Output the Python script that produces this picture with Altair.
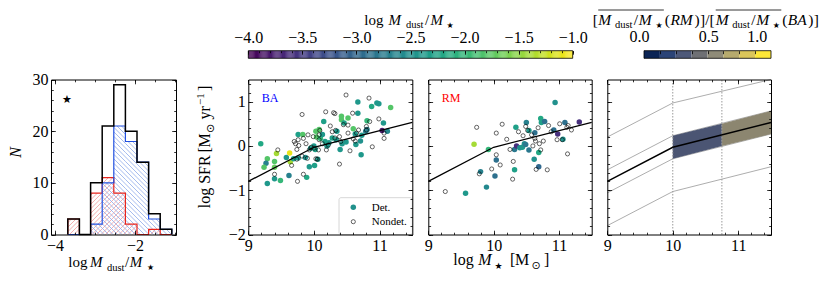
import altair as alt
import numpy as np
import pandas as pd

# ===================== data =====================
hist_edges = [-3.68, -3.39, -3.11, -2.82, -2.53, -2.24, -1.95, -1.66, -1.37, -1.08]
hist_all = [3, 0, 10, 21, 29, 20, 14, 4, 1]
hist_ba = [0, 0, 2, 10, 21, 18, 14, 3, 1]
hist_rm = [3, 0, 8, 11, 8, 2, 0, 1, 0]
star_x = [-3.7]
star_y = [26]

ba_det_x = [9.19, 9.29, 9.27, 9.24, 9.29, 9.40, 9.40, 9.40, 9.49, 9.43,
            9.58, 9.63, 9.64, 9.62, 9.69, 9.76, 9.83, 9.76, 9.89, 9.93,
            9.95, 10.03, 10.04, 10.02, 10.01, 10.08, 10.10, 10.13, 10.15, 10.20,
            10.23, 10.06, 9.87, 10.67, 10.88, 10.96, 10.99, 11.17, 10.42, 10.42,
            10.52, 10.46, 10.67, 10.81, 11.06, 10.35, 10.60, 10.63, 10.79, 10.81,
            11.04, 11.12, 10.73, 10.34, 10.43, 10.49, 10.64, 10.71, 10.40, 10.72,
            10.28, 10.17, 10.00]
ba_det_y = [0.05, -0.29, -0.39, -0.48, -0.85, -0.35, -0.48, -0.74, -0.78, -0.17,
            -0.26, -0.16, -0.36, -0.67, -0.29, 0.26, 0.26, -0.27, -0.71, -0.47,
            -0.05, 0.33, 0.20, -0.08, -0.44, 0.37, 0.17, 0.26, 0.55, 0.00,
            0.07, -0.30, -0.26, 0.99, 0.89, 0.97, 0.95, 0.87, 0.67, 0.59,
            0.63, 0.52, 0.74, 0.57, 0.52, 0.33, 0.39, 0.27, 0.33, 0.37,
            0.35, 0.33, 0.24, 0.14, 0.05, 0.09, 0.03, 0.11, -0.08, -0.20,
            0.18, 0.10, 0.00]
ba_det_c = [-2.2, -1.8, -2.7, -1.8, -2.4, -1.8, -1.7, -2.4, -2.0, -1.4,
            -2.4, -1.1, -1.4, -2.7, -2.3, -2.3, -1.8, -2.4, -2.2, -2.4,
            -2.4, -1.8, -1.8, -2.3, -2.3, -1.8, -2.0, -2.4, -2.3, -2.4,
            -2.4, -2.4, -2.5, -2.4, -2.2, -2.4, -2.4, -1.8, -1.8, -1.8,
            -1.8, -2.3, -2.4, -2.0, -2.4, -2.4, -1.8, -2.4, -2.7, -2.7,
            -3.8, -2.6, -2.4, -2.4, -2.4, -2.4, -2.4, -2.5, -2.4, -2.4,
            -2.3, -2.3, -2.4]

ba_non_x = [9.45, 9.40, 9.82, 9.74, 9.72, 9.76, 9.77, 9.82, 9.84, 9.75,
            9.91, 9.93, 9.90, 9.84, 9.99, 9.96, 10.03, 10.05, 10.07, 10.08,
            10.08, 10.09, 10.13, 10.18, 10.19, 10.25, 10.28, 10.30, 10.32, 10.33,
            10.32, 10.39, 10.39, 10.41, 10.49, 10.52, 10.52, 10.55, 10.59, 10.60,
            10.63, 10.65, 10.68, 10.80, 10.80, 10.84, 10.85, 10.89, 10.99, 11.07,
            11.07, 9.66, 9.88, 9.74, 10.00, 9.70, 10.22, 10.45]
ba_non_y = [-0.09, -0.64, 0.71, -0.08, 0.05, 0.14, 0.01, -0.23, -0.64, -0.80,
            0.25, -0.09, -0.28, 0.17, 0.21, -0.03, -0.29, -0.30, -0.09, 0.25,
            0.14, 0.35, 0.05, 0.77, -0.09, 0.45, 0.32, 0.75, 0.73, 0.35,
            0.18, -0.41, 0.21, 0.10, 1.15, 0.29, 0.47, -0.11, 0.74, 0.16,
            0.11, 0.29, 0.36, 0.44, 0.36, 1.08, 0.55, -0.02, 0.61, 0.29,
            0.17, -0.44, 0.05, -0.30, -0.05, 0.10, 0.02, 0.48]

rm_det_x = [9.57, 9.70, 9.80, 9.89, 9.92, 10.02, 10.04, 10.32, 10.32, 10.34,
            10.35, 10.40, 10.44, 10.47, 10.49, 10.50, 10.54, 10.54, 10.63, 10.62,
            10.69, 10.69, 10.72, 10.73, 10.78, 10.94, 10.92, 10.98, 11.06, 11.09,
            11.31]
rm_det_y = [-1.07, 0.04, -0.58, -0.93, -0.08, -0.68, -0.32, -0.54, -0.08, 0.42,
            0.00, -0.04, -0.03, 0.05, 0.03, 0.53, -0.09, 0.35, 0.30, -0.30,
            -0.15, -0.47, 0.62, 0.53, 0.55, 0.98, 0.36, 0.27, 0.15, 0.53,
            0.54]
rm_det_c = [-2.4, -1.4, -2.7, -2.6, -2.0, -2.9, -2.9, -2.3, -2.8, -2.3,
            -3.6, -2.5, -2.4, -2.5, -2.8, -2.7, -2.8, -2.4, -2.9, -2.5,
            -2.2, -3.0, -2.2, -2.3, -2.9, -2.5, -2.9, -3.6, -2.5, -2.9,
            -3.6]

rm_non_x = [9.26, 9.74, 9.78, 9.97, 10.04, 10.04, 10.10, 10.13, 10.20, 10.25,
            10.30, 10.29, 10.38, 10.45, 10.49, 10.58, 10.60, 10.63, 10.64, 10.65,
            10.68, 10.70, 10.72, 10.76, 10.82, 10.84, 10.88, 11.01, 11.05, 11.12,
            11.14, 11.13, 11.19, 10.52, 10.97]
rm_non_y = [-1.03, 0.42, -0.63, -0.52, 0.29, -0.20, -0.43, 0.49, 0.15, -0.08,
            -0.35, -0.75, 0.32, 0.23, 0.44, 0.25, 0.00, 0.17, 0.11, -0.53,
            0.41, 0.05, -0.09, 0.11, -0.54, 0.46, 0.32, 0.50, 0.14, 0.42,
            0.46, -0.18, 0.36, 0.35, 0.14]

fit_x = [9.0, 10.0, 11.5]
fit_y = [-0.80, -0.03, 0.53]
inner_hi = [-0.54, 0.23, 0.79]
inner_lo = [-1.06, -0.29, 0.27]
outer_hi = [0.20, 0.97, 1.53]
outer_lo = [-1.80, -1.03, -0.47]
band1_x = [10.0, 10.75]
band1_lo = [-0.29, 0.00]
band1_hi = [0.23, 0.50]
band2_x = [10.75, 11.5]
band2_lo = [0.00, 0.27]
band2_hi = [0.50, 0.79]
band_colors = ["#4b5573", "#8c8670"]
vlines_x = [10.0, 10.75]

cb1_ticks = [-4.0, -3.5, -3.0, -2.5, -2.0, -1.5, -1.0]
cb2_colors = ["#0b2455", "#2b4477", "#4d5878", "#6f7074", "#8f8b78",
              "#b6aa6d", "#dbc65a", "#fde737"]
cb2_ticks = [0.0, 0.5, 1.0]

# ===================== layout (view px, page = view + 8) =====================
W, H = 815, 268
PT, PB = 71.5, 226.5
SERIF = "Liberation Serif"
SYM = "DejaVu Sans"
LFS = 16
HX_DOM, HX_R = [-4.1, -0.975], [43.0, 168.0]
HY_DOM = [0, 30]
MX_DOM, MY_DOM = [9, 11.5], [-2, 1.5]
Y_R = [PB, PT]
P2_R, P3_R, P4_R = [240.3, 404.3], [420.3, 583.7], [599.3, 763.0]
CB_T, CB_B = 42.7, 50.3
CB1_R = [240.3, 564.7]
CB2_R = [636.0, 763.0]
CB2_LAB_R = [631.0, 700.3, 748.7]
TB = 25  # colourbar title baseline (page px)


def S(dom, rng, **kw):
    return alt.Scale(domain=list(dom), range=list(rng), nice=False, zero=False, **kw)


def axis_set(xdom, xr, ydom, yr, xmaj, xmin, ymaj, ymin, xlab=None, ylab=None,
             tmaj=4.3, tmin=2.3):
    L, R = xr
    B, T = yr
    base = {"bottom": -(H - B), "top": -T, "left": -L, "right": -(W - R)}
    df = pd.DataFrame({"x": [xdom[0]], "y": [ydom[0]]})

    def lay(xa, ya):
        return alt.Chart(df).mark_point(opacity=0).encode(
            x=alt.X("x:Q", scale=S(xdom, xr), axis=xa),
            y=alt.Y("y:Q", scale=S(ydom, yr), axis=ya))

    def frame_axis(orient, lab, pad):
        kw = dict(orient=orient, offset=base[orient], domain=True, ticks=False,
                  tickSize=0, grid=False, title=None, labels=bool(lab), zindex=1)
        if lab:
            kw.update(values=lab, format="d", labelPadding=pad, labelFont=SERIF,
                      labelFontSize=LFS, labelColor="black", labelFlush=False,
                      labelOverlap=False)
        return alt.Axis(**kw)

    def tick_axis(orient, vals, t):
        return alt.Axis(orient=orient, offset=base[orient] - t, domain=False,
                        ticks=True, tickSize=t, labels=False, values=vals,
                        grid=False, title=None, zindex=1)

    out = [lay(frame_axis("bottom", xlab, 2.5), frame_axis("left", ylab, 3)),
           lay(frame_axis("top", None, 0), frame_axis("right", None, 0))]
    for vx, vy, t in [(xmaj, ymaj, tmaj), (xmin, ymin, tmin)]:
        out.append(lay(tick_axis("bottom", vx, t), tick_axis("left", vy, t)))
        out.append(lay(tick_axis("top", vx, t), tick_axis("right", vy, t)))
    return out


dummy1 = pd.DataFrame({"a": [0]})


def txt(t, px, py, size, font=SERIF, italic=False, angle=0, align="left",
        color="black"):
    kw = dict(font=font, fontSize=size, align=align, baseline="alphabetic",
              color=color)
    if italic:
        kw["fontStyle"] = "italic"
    if angle:
        kw["angle"] = angle
    return alt.Chart(dummy1).mark_text(**kw).encode(
        x=alt.value(px - 8), y=alt.value(py - 8), text=alt.value(t))


def hline(x1, x2, y, w=0.8):
    return alt.Chart(dummy1).mark_rule(color="black", strokeWidth=w).encode(
        x=alt.value(x1 - 8), x2=alt.value(x2 - 8), y=alt.value(y - 8))


layers = []

# ===================== panel 1 : histogram =====================
def lin(v, d, r):
    return r[0] + (v - d[0]) / (d[1] - d[0]) * (r[1] - r[0])


def inv(p, d, r):
    return d[0] + (p - r[0]) / (r[1] - r[0]) * (d[1] - d[0])


def hatch_df(counts, kind, sp=4.5):
    rows = []
    for k, c in enumerate(counts):
        if c <= 0:
            continue
        x0, x1 = lin(hist_edges[k], HX_DOM, HX_R), lin(hist_edges[k + 1], HX_DOM, HX_R)
        yb, yt = lin(0, HY_DOM, Y_R), lin(c, HY_DOM, Y_R)
        if kind == "/":
            lo, hi = x0 + yt, x1 + yb
            for cc in np.arange(np.floor(lo / sp) * sp, hi + sp, sp):
                xa, xb = max(x0, cc - yb), min(x1, cc - yt)
                if xb - xa > 0.2:
                    rows.append((xa, cc - xa, xb, cc - xb))
        else:
            lo, hi = yt - x1, yb - x0
            for cc in np.arange(np.floor(lo / sp) * sp, hi + sp, sp):
                xa, xb = max(x0, yt - cc), min(x1, yb - cc)
                if xb - xa > 0.2:
                    rows.append((xa, xa + cc, xb, xb + cc))
    return pd.DataFrame(
        [(inv(a, HX_DOM, HX_R), inv(b, HY_DOM, Y_R), inv(c, HX_DOM, HX_R),
          inv(d, HY_DOM, Y_R)) for a, b, c, d in rows],
        columns=["x", "y", "x2", "y2"])


def hx():
    return alt.X("x:Q", scale=S(HX_DOM, HX_R), axis=None)


def hy():
    return alt.Y("y:Q", scale=S(HY_DOM, Y_R), axis=None)


for counts, kind, col in [(hist_rm, "/", "#f29a9a"), (hist_ba, "\\", "#8eaaea")]:
    layers.append(alt.Chart(hatch_df(counts, kind)).mark_rule(
        color=col, strokeWidth=0.8).encode(x=hx(), y=hy(), x2="x2:Q", y2="y2:Q"))


def step_df(counts):
    xs = [hist_edges[0]] + hist_edges[:-1] + [hist_edges[-1]]
    ys = [0] + list(counts) + [0]
    return pd.DataFrame({"x": xs, "y": ys, "i": list(range(len(xs)))})


for counts, col, w in [(hist_rm, "#e8241c", 1.2), (hist_ba, "#2150e0", 1.2),
                       (hist_all, "black", 1.5)]:
    layers.append(alt.Chart(step_df(counts)).mark_line(
        interpolate="step-after", color=col, strokeWidth=w).encode(
        x=hx(), y=hy(), order="i:Q"))

layers.append(alt.Chart(pd.DataFrame({"x": star_x, "y": star_y})).mark_text(
    text="★", font=SYM, fontSize=11, color="black").encode(x=hx(), y=hy()))

layers += axis_set(HX_DOM, HX_R, HY_DOM, Y_R,
                   [-4, -2], list(np.arange(-4, -0.99, 0.5)),
                   [0, 10, 20, 30], list(range(0, 31, 2)),
                   xlab=[-4, -2], ylab=[0, 10, 20, 30])

# ===================== panels 2 & 3 : scatter =====================
MX_MAJ = [9, 10, 11]
MX_MIN = [round(v, 2) for v in np.arange(9, 11.51, 0.2)]
MY_MAJ = [-2, -1, 0, 1]
MY_MIN = [round(v, 2) for v in np.arange(-2, 1.51, 0.2)]
VIR = alt.Scale(scheme="viridis", domain=[-4, -1])


def scatter_panel(xr, dx, dy, dc, nx, ny, ylab):
    out = []
    ddf = pd.DataFrame({"x": dx, "y": dy, "c": dc})
    ndf = pd.DataFrame({"x": nx, "y": ny})
    fdf = pd.DataFrame({"x": fit_x, "y": fit_y})
    X = alt.X("x:Q", scale=S(MX_DOM, xr), axis=None)
    Y = alt.Y("y:Q", scale=S(MY_DOM, Y_R), axis=None)
    out.append(alt.Chart(ddf).mark_circle(size=30, opacity=1).encode(
        x=X, y=Y, color=alt.Color("c:Q", scale=VIR, legend=None)))
    out.append(alt.Chart(ndf).mark_point(shape="circle", filled=False, color="black",
                                         strokeWidth=0.6, size=17, opacity=1).encode(x=X, y=Y))
    out.append(alt.Chart(fdf).mark_line(color="black", strokeWidth=1.3).encode(x=X, y=Y))
    out += axis_set(MX_DOM, xr, MY_DOM, Y_R, MX_MAJ, MX_MIN, MY_MAJ, MY_MIN,
                    xlab=MX_MAJ, ylab=ylab)
    return out


layers += scatter_panel(P2_R, ba_det_x, ba_det_y, ba_det_c, ba_non_x, ba_non_y, MY_MAJ)
layers += scatter_panel(P3_R, rm_det_x, rm_det_y, rm_det_c, rm_non_x, rm_non_y, None)

layers.append(txt("BA", 261.7, 101.7, 12, color="#0000ff"))
layers.append(txt("RM", 441.7, 101.7, 12, color="#ff0000"))

# legend in BA panel
layers.append(alt.Chart(dummy1).mark_rect(fill="white", stroke="#cccccc", strokeWidth=0.8,
                                          cornerRadius=2).encode(
    x=alt.value(339 - 8), x2=alt.value(412.3 - 8), y=alt.value(197.7 - 8),
    y2=alt.value(234.5 - 8)))
layers.append(alt.Chart(dummy1).mark_circle(size=30, opacity=1, color="#21918c").encode(
    x=alt.value(353.3 - 8), y=alt.value(207.3 - 8)))
layers.append(alt.Chart(dummy1).mark_point(shape="circle", filled=False, color="black",
                                           strokeWidth=0.6, size=17, opacity=1).encode(
    x=alt.value(353.3 - 8), y=alt.value(221.7 - 8)))
layers.append(txt("Det.", 371.7, 210.7, 11))
layers.append(txt("Nondet.", 371.7, 225, 11))

# ===================== panel 4 : relations =====================
X4 = alt.X("x:Q", scale=S(MX_DOM, P4_R), axis=None)
Y4 = alt.Y("y:Q", scale=S(MY_DOM, Y_R, clamp=True), axis=None)
thin = pd.DataFrame({
    "x": fit_x * 4,
    "y": inner_hi + inner_lo + outer_hi + outer_lo,
    "s": ["ih"] * 3 + ["il"] * 3 + ["oh"] * 3 + ["ol"] * 3})
layers.append(alt.Chart(thin).mark_line(color="#8a8a8a", strokeWidth=0.7).encode(
    x=X4, y=Y4, detail="s:N"))
for bx, blo, bhi, bc in [(band1_x, band1_lo, band1_hi, band_colors[0]),
                         (band2_x, band2_lo, band2_hi, band_colors[1])]:
    layers.append(alt.Chart(pd.DataFrame({"x": bx, "y": blo, "y2": bhi})).mark_area(
        color=bc, opacity=1).encode(x=X4, y=Y4, y2="y2:Q"))
layers.append(alt.Chart(pd.DataFrame({"x": vlines_x, "y": [MY_DOM[0]] * 2,
                                      "y2": [MY_DOM[1]] * 2})).mark_rule(
    color="#9a9a9a", strokeWidth=1, strokeDash=[1.5, 1.5]).encode(x=X4, y=Y4, y2="y2:Q"))
layers.append(alt.Chart(pd.DataFrame({"x": fit_x, "y": fit_y})).mark_line(
    color="black", strokeWidth=1.4).encode(x=X4, y=Y4))
layers += axis_set(MX_DOM, P4_R, MY_DOM, Y_R, MX_MAJ, MX_MIN, MY_MAJ, MY_MIN,
                   xlab=MX_MAJ, ylab=None)

# ===================== colourbar 1 =====================
cbv = np.round(np.arange(-4.0, -1.0, 0.01), 3)
cb1df = pd.DataFrame({"v": cbv, "v2": cbv + 0.011})
X_CB1 = alt.X("v:Q", scale=S([-4, -1], CB1_R), axis=None)
layers.append(alt.Chart(cb1df).mark_rect().encode(
    x=X_CB1, x2="v2:Q", y=alt.value(CB_T), y2=alt.value(CB_B),
    color=alt.Color("v:Q", scale=VIR, legend=None)))
layers.append(alt.Chart(pd.DataFrame({"v": [cb1_ticks[0]], "v2": [cb1_ticks[-1]]})).mark_rect(
    fill=None, stroke="black", strokeWidth=0.8).encode(
    x=X_CB1, x2="v2:Q", y=alt.value(CB_T), y2=alt.value(CB_B)))


def cb_axis_layer(dom, rng, axis):
    return alt.Chart(pd.DataFrame({"v": [dom[0]]})).mark_point(opacity=0).encode(
        x=alt.X("v:Q", scale=S(dom, rng), axis=axis), y=alt.value(0))


layers.append(cb_axis_layer([-4, -1], CB1_R, alt.Axis(
    orient="top", offset=-CB_T, domain=False, ticks=False, tickSize=0, labels=True,
    values=cb1_ticks, format=".1f", labelPadding=5, grid=False, title=None,
    labelFont=SERIF, labelFontSize=LFS, labelColor="black", labelFlush=False,
    labelOverlap=False)))
layers.append(cb_axis_layer([-4, -1], CB1_R, alt.Axis(
    orient="top", offset=-(CB_T + 3.5), domain=False, ticks=True, tickSize=3.5,
    labels=False, values=cb1_ticks, grid=False, title=None, zindex=1)))
layers.append(cb_axis_layer([-4, -1], CB1_R, alt.Axis(
    orient="top", offset=-(CB_T + 2), domain=False, ticks=True, tickSize=2,
    labels=False, values=[round(v, 2) for v in np.arange(-4, -0.99, 0.1)],
    grid=False, title=None, zindex=1)))

# ===================== colourbar 2 =====================
cb2df = pd.DataFrame({"i": list(range(8)), "i2": list(range(1, 9)), "c": cb2_colors})
X_CB2 = alt.X("i:Q", scale=S([0, 8], CB2_R), axis=None)
layers.append(alt.Chart(cb2df).mark_rect().encode(
    x=X_CB2, x2="i2:Q", y=alt.value(CB_T), y2=alt.value(CB_B),
    color=alt.Color("c:N", scale=None)))
layers.append(alt.Chart(pd.DataFrame({"i": [0], "i2": [8]})).mark_rect(
    fill=None, stroke="black", strokeWidth=0.8).encode(
    x=X_CB2, x2="i2:Q", y=alt.value(CB_T), y2=alt.value(CB_B)))
layers.append(cb_axis_layer([0, 8], CB2_R, alt.Axis(
    orient="top", offset=-(CB_T + 3), domain=False, ticks=True, tickSize=3,
    labels=False, values=list(range(1, 8)), grid=False, title=None, zindex=1)))
layers.append(cb_axis_layer([0, 0.5, 1], CB2_LAB_R, alt.Axis(
    orient="top", offset=-CB_T, domain=False, ticks=False, tickSize=0, labels=True,
    values=cb2_ticks, format=".1f", labelPadding=6, grid=False, title=None,
    labelFont=SERIF, labelFontSize=LFS, labelColor="black", labelFlush=False,
    labelOverlap=False)))

# ===================== titles =====================
# hist x title
layers += [txt("log", 68.3, 266.5, 15), txt("M", 90, 266.5, 15, italic=True),
           txt("dust", 107, 270.5, 10.5), txt("/", 125, 266.5, 15),
           txt("M", 129.8, 266.5, 15, italic=True), txt("★", 147, 270, 8, font=SYM)]
# hist y title
layers.append(txt("N", 21, 152.5, 16, italic=True, angle=270, align="center"))
# colourbar 1 title
layers += [txt("log", 364.3, TB, 15), txt("M", 388.5, TB, 15, italic=True),
           txt("dust", 406, TB + 3, 10.5), txt("/", 425, TB, 15),
           txt("M", 430.5, TB, 15, italic=True), txt("★", 446.5, TB + 3, 8, font=SYM)]
# colourbar 2 title
segs = [("[", .333, 15.5, SERIF, False, 0), ("M", 1.0, 15.5, SERIF, True, 0),
        ("dust", 1.667, 10.5, SERIF, False, 3), ("/", .3, 15.5, SERIF, False, 0),
        ("M", 1.0, 15.5, SERIF, True, 0), ("★", 1.1, 8, SYM, False, 3),
        ("(", .333, 15.5, SERIF, False, 0), ("RM", 1.444, 15.5, SERIF, True, 0),
        (")", .333, 15.5, SERIF, False, 0), ("]/[", .944, 15.5, SERIF, False, 0),
        ("M", 1.0, 15.5, SERIF, True, 0), ("dust", 1.667, 10.5, SERIF, False, 3),
        ("/", .3, 15.5, SERIF, False, 0), ("M", 1.0, 15.5, SERIF, True, 0),
        ("★", 1.1, 8, SYM, False, 3), ("(", .333, 15.5, SERIF, False, 0),
        ("BA", 1.222, 15.5, SERIF, True, 0), (")", .333, 15.5, SERIF, False, 0),
        ("]", .333, 15.5, SERIF, False, 0)]
x0, x1 = 592.7, 819.3
nat = sum(w * s for _, w, s, _, _, _ in segs)
k = (x1 - x0) / nat
xpos = []
cx = x0
for t, w, s, f, it, dy in segs:
    layers.append(txt(t, cx, TB + dy, s, font=f, italic=it))
    xpos.append(cx)
    cx += w * s * k
xpos.append(cx)
layers.append(hline(xpos[1], xpos[6] - 1, 10))
layers.append(hline(xpos[10], xpos[15] - 1, 10))
# panel x title
layers += [txt("log", 453.3, 265, 16), txt("M", 478.3, 265, 16, italic=True),
           txt("★", 494.5, 268.5, 9, font=SYM), txt("[", 510, 265, 16),
           txt("M", 515, 265, 16), txt("⊙", 531.5, 268.5, 11, font=SYM),
           txt("]", 544, 265, 16)]
# panel y title (rotated)
layers += [txt("log SFR", 210, 208.3, 16, angle=270),
           txt("[", 210, 152.5, 16, angle=270),
           txt("M", 210, 147.5, 16, angle=270),
           txt("⊙", 213.5, 133, 11, font=SYM, angle=270),
           txt("yr", 210, 119.5, 16, angle=270),
           txt("−1", 203.5, 105, 11, angle=270),
           txt("]", 210, 91, 16, angle=270)]

chart = alt.layer(*layers).properties(
    width=W, height=H, padding=0,
    autosize=alt.AutoSizeParams(type="none")
).resolve_scale(
    x="independent", y="independent", color="independent"
).configure_view(strokeWidth=0).configure_axis(
    labelFont=SERIF, labelFontSize=LFS, labelColor="black", tickColor="black",
    domainColor="black", tickWidth=0.8, domainWidth=1, grid=False)

chart.save("out.html", embed_options={"renderer": "svg", "actions": False})
